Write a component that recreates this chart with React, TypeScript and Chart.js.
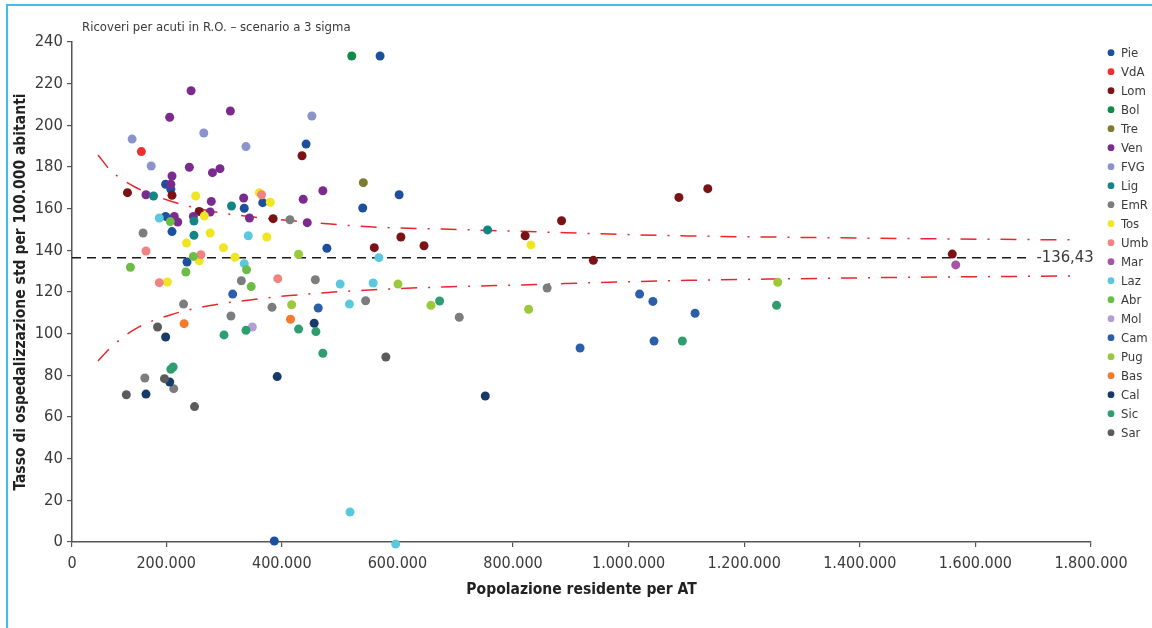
import React, { useEffect, useRef } from 'react';
import { Chart, registerables } from 'chart.js';

Chart.register(...registerables);

const FONT = '"Liberation Sans Narrow", "DejaVu Sans Condensed", "Open Sans", sans-serif';

const CHART_TITLE = 'Ricoveri per acuti in R.O. – scenario a 3 sigma';
const X_TITLE = 'Popolazione residente per AT';
const Y_TITLE = 'Tasso di ospedalizzazione std per 100.000 abitanti';

// x axis: the drawn axis starts a bit before the "200.000" step grid; first label reads "0"
const X_MIN = 37000;
const X_MAX = 1800000;
const xTickValues = [37000, 200000, 400000, 600000, 800000, 1000000, 1200000, 1400000, 1600000, 1800000];
const xTickLabels = ['0', '200.000', '400.000', '600.000', '800.000', '1.000.000', '1.200.000', '1.400.000', '1.600.000', '1.800.000'];
const Y_MIN = 0;
const Y_MAX = 240;
const Y_STEP = 20;

// mean reference line
const MEAN_RATE = 136.43;
const MEAN_LABEL = '-136,43';
const meanLineX = [37000, 1690000];

// 3-sigma control limits
const limitX = [82000, 103000, 146000, 207000, 276000, 345000, 414000, 552000, 691000, 826000, 966000, 1104000, 1243000, 1469000, 1772000];
const upperLimit = [185.8, 178.6, 170.4, 163.7, 158.9, 156.2, 154.3, 151.3, 150.1, 149.0, 147.8, 146.9, 146.4, 145.7, 145.0];
const lowerLimit = [86.9, 93.1, 102.2, 109.0, 113.5, 116.2, 118.3, 121.0, 122.5, 123.5, 124.7, 125.6, 126.2, 127.0, 127.7];

// regions (legend order) and colours
const regions = ['Pie', 'VdA', 'Lom', 'Bol', 'Tre', 'Ven', 'FVG', 'Lig', 'EmR', 'Tos', 'Umb', 'Mar', 'Laz', 'Abr', 'Mol', 'Cam', 'Pug', 'Bas', 'Cal', 'Sic', 'Sar'];
const regionColors = ['#1d4f9f', '#ee2e31', '#7b1216', '#0f8a47', '#7d7b2f', '#7b2b8e', '#8a93cb', '#138584', '#7b7d7e', '#efe523', '#f28383', '#a855a8', '#5ac8dd', '#6bbd45', '#b49ed2', '#2d5ea9', '#9cc93a', '#f47b2b', '#183a68', '#2d9e6f', '#5a5b5c'];

// [population, rate]
const pie = [[570000, 233.3], [442000, 191.0], [199000, 171.7], [208000, 169.3], [367000, 162.9], [335000, 160.2], [540000, 160.3], [603000, 166.7], [199000, 156.3], [210000, 149.0], [478000, 141.0], [236000, 134.4], [387000, 0.5]];
const vda = [[157000, 187.4]];
const lom = [[435000, 185.4], [133000, 167.7], [210000, 166.4], [257000, 158.7], [385000, 155.2], [606000, 146.4], [646000, 142.2], [560000, 141.3], [821000, 147.0], [884000, 154.2], [939000, 135.2], [1087000, 165.4], [1137000, 169.6], [1560000, 138.2]];
const bol = [[521000, 233.3]];
const tre = [[541000, 172.5]];
const ven = [[243000, 216.6], [311000, 206.9], [206000, 203.9], [240000, 179.9], [293000, 179.2], [280000, 177.3], [210000, 175.7], [208000, 171.7], [165000, 166.7], [334000, 165.1], [278000, 163.5], [471000, 168.6], [437000, 164.5], [444000, 153.3], [276000, 158.4], [214000, 156.3], [220000, 153.6], [247000, 156.3], [344000, 155.5]];
const fvg = [[452000, 204.5], [265000, 196.3], [141000, 193.4], [338000, 189.8], [174000, 180.5]];
const lig = [[178000, 166.1], [313000, 161.3], [248000, 154.1], [248000, 147.2], [756000, 149.8]];
const emr = [[414000, 154.7], [160000, 148.3], [330000, 125.4], [545000, 115.8], [859000, 121.9], [230000, 114.2], [383000, 112.7], [312000, 108.5], [707000, 107.9], [163000, 78.7], [213000, 73.6], [458000, 125.9]];
const tos = [[251000, 166.1], [361000, 167.7], [380000, 163.1], [266000, 156.5], [276000, 148.3], [374000, 146.4], [235000, 143.5], [299000, 141.3], [319000, 136.7], [257000, 135.0], [202000, 124.8], [831000, 142.6]];
const umb = [[365000, 166.7], [165000, 139.7], [260000, 137.9], [393000, 126.4], [188000, 124.5]];
const mar = [[1566000, 133.0]];
const laz = [[188000, 155.5], [342000, 147.0], [335000, 133.6], [568000, 136.5], [501000, 123.8], [558000, 124.3], [517000, 114.2], [518000, 14.4], [597000, -1.0]];
const abr = [[207000, 153.8], [247000, 137.1], [339000, 130.7], [138000, 131.9], [234000, 129.6], [347000, 122.6]];
const mol = [[349000, 103.2]];
const cam = [[916000, 93.1], [1019000, 119.0], [1042000, 115.5], [1044000, 96.5], [1115000, 109.8], [463000, 112.3], [315000, 119.0]];
const pug = [[429000, 138.1], [601000, 123.8], [417000, 113.9], [658000, 113.6], [827000, 111.7], [1258000, 124.7]];
const bas = [[231000, 104.8], [415000, 106.9]];
const cal = [[456000, 105.0], [199000, 98.4], [206000, 76.8], [165000, 71.0], [392000, 79.4], [752000, 70.1]];
const sic = [[673000, 115.7], [429000, 102.2], [459000, 101.0], [471000, 90.6], [300000, 99.4], [338000, 101.6], [208000, 82.9], [212000, 84.0], [1256000, 113.6], [1093000, 96.5]];
const sar = [[185000, 103.2], [197000, 78.4], [131000, 70.7], [249000, 65.0], [580000, 88.8]];

const regionData = [pie, vda, lom, bol, tre, ven, fvg, lig, emr, tos, umb, mar, laz, abr, mol, cam, pug, bas, cal, sic, sar];

const overlayPlugin = {
  id: 'overlay',
  afterDraw(chart: any) {
    const { ctx } = chart;
    const xs = chart.scales.x;
    const ys = chart.scales.y;
    ctx.save();
    ctx.textAlign = 'left';
    ctx.textBaseline = 'middle';
    // chart title
    ctx.fillStyle = '#3a3a3a';
    ctx.font = `13px ${FONT}`;
    ctx.fillText(CHART_TITLE, 82, 28);
    // mean label
    ctx.font = `16.5px ${FONT}`;
    ctx.fillText(MEAN_LABEL, xs.getPixelForValue(meanLineX[1]) + 9, ys.getPixelForValue(MEAN_RATE));
    // legend
    ctx.font = `13px ${FONT}`;
    regions.forEach((name, i) => {
      const y = 52.7 + i * 19.0;
      ctx.beginPath();
      ctx.fillStyle = regionColors[i];
      ctx.arc(1111, y, 3.4, 0, Math.PI * 2);
      ctx.fill();
      ctx.fillStyle = '#3a3a3a';
      ctx.fillText(name, 1121, y + 0.5);
    });
    ctx.restore();
  },
};

export default function App() {
  const canvasRef = useRef<HTMLCanvasElement | null>(null);

  useEffect(() => {
    if (!canvasRef.current) return;
    const pointSets: any[] = regions.map((name, i) => ({
      label: name,
      data: regionData[i].map(([x, y]) => ({ x, y })),
      backgroundColor: regionColors[i],
      borderColor: regionColors[i],
      borderWidth: 0,
      pointRadius: 4.5,
      pointHoverRadius: 4.5,
      clip: false,
      order: 100 - i,
    }));
    const lineSets: any[] = [
      {
        label: 'upper',
        data: limitX.map((x, i) => ({ x, y: upperLimit[i] })),
        showLine: true,
        pointRadius: 0,
        borderColor: '#e8262b',
        borderWidth: 1.5,
        borderDash: [16, 11, 2, 11],
        tension: 0.4,
        cubicInterpolationMode: 'monotone',
        order: 300,
      },
      {
        label: 'lower',
        data: limitX.map((x, i) => ({ x, y: lowerLimit[i] })),
        showLine: true,
        pointRadius: 0,
        borderColor: '#e8262b',
        borderWidth: 1.5,
        borderDash: [16, 11, 2, 11],
        tension: 0.4,
        cubicInterpolationMode: 'monotone',
        order: 300,
      },
      {
        label: 'mean',
        data: meanLineX.map((x) => ({ x, y: MEAN_RATE })),
        showLine: true,
        pointRadius: 0,
        borderColor: '#1a1a1a',
        borderWidth: 1.5,
        borderDash: [9, 6],
        order: 300,
      },
    ];

    const chart = new Chart(canvasRef.current, {
      type: 'scatter',
      data: { datasets: [...lineSets, ...pointSets] },
      plugins: [overlayPlugin],
      options: {
        animation: false,
        responsive: false,
        devicePixelRatio: 1,
        layout: { padding: { left: 0, top: 42, right: 61, bottom: 26 } },
        plugins: {
          legend: { display: false },
          tooltip: { enabled: false },
          title: { display: false },
        },
        scales: {
          x: {
            type: 'linear',
            position: 'bottom',
            min: X_MIN,
            max: X_MAX,
            afterBuildTicks: (scale: any) => {
              scale.ticks = xTickValues.map((v) => ({ value: v }));
            },
            afterFit: (scale: any) => {
              scale.height = 60;
              scale.paddingLeft = 0;
              scale.paddingRight = 0;
            },
            grid: { display: true, drawOnChartArea: false, drawTicks: true, tickLength: 5, color: '#555', lineWidth: 1.2 },
            border: { display: true, color: '#555', width: 1.5 },
            ticks: {
              autoSkip: false,
              maxRotation: 0,
              padding: 7,
              color: '#3a3a3a',
              font: { family: FONT, size: 16 },
              callback: (_v: any, i: number) => xTickLabels[i],
            },
            title: {
              display: true,
              text: X_TITLE,
              color: '#222',
              font: { family: FONT, size: 15.5, weight: 'bold' },
              padding: { top: 0, bottom: 3 },
            },
          },
          y: {
            type: 'linear',
            min: Y_MIN,
            max: Y_MAX,
            afterFit: (scale: any) => {
              scale.width = 72;
            },
            grid: { display: true, drawOnChartArea: false, drawTicks: true, tickLength: 5, color: '#555', lineWidth: 1.2 },
            border: { display: true, color: '#555', width: 1.5 },
            ticks: {
              stepSize: Y_STEP,
              padding: 4,
              color: '#3a3a3a',
              font: { family: FONT, size: 16.5 },
            },
            title: {
              display: true,
              text: Y_TITLE,
              color: '#222',
              font: { family: FONT, size: 15.5, weight: 'bold' },
              padding: { top: 12, bottom: 0 },
            },
          },
        },
      } as any,
    });
    return () => chart.destroy();
  }, []);

  return (
    <div style={{ position: 'absolute', left: 0, top: 0, width: 1152, height: 628, background: '#fff', overflow: 'hidden' }}>
      <div
        style={{
          position: 'absolute',
          left: 6,
          top: 4,
          width: 1146,
          height: 624,
          borderTop: '2px solid #3ec0ee',
          borderLeft: '2px solid #3ec0ee',
          boxSizing: 'border-box',
        }}
      />
      <canvas ref={canvasRef} width={1152} height={628} style={{ position: 'absolute', left: 0, top: 0 }} />
    </div>
  );
}
